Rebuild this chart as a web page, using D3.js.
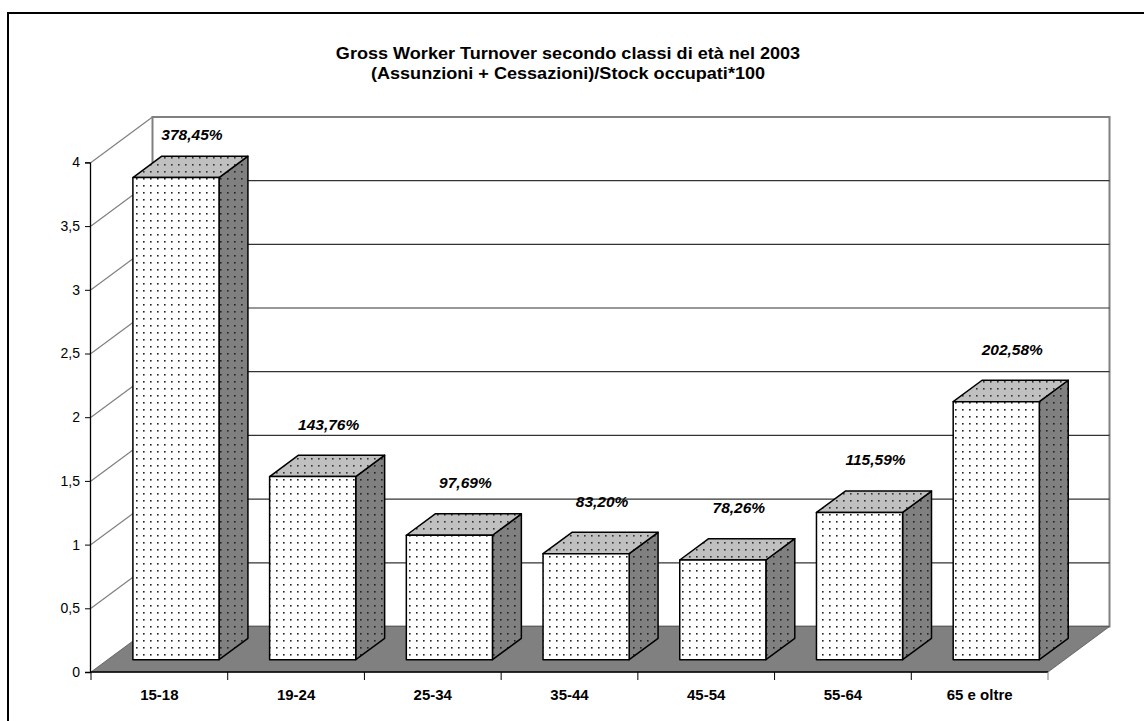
<!DOCTYPE html>
<html>
<head>
<meta charset="utf-8">
<script src="https://cdn.jsdelivr.net/npm/d3@7"></script>
<style>
  html, body { margin: 0; padding: 0; background: #fff; }
  svg { display: block; font-family: Arial, "Liberation Sans", sans-serif; }
</style>
</head>
<body>
<svg id="chart" width="1144" height="721"></svg>
<script>
// Age classes and gross worker turnover (ratio, 1 = 100%)
const categories = ["15-18", "19-24", "25-34", "35-44", "45-54", "55-64", "65 e oltre"];
const turnover = [3.7845, 1.4376, 0.9769, 0.8320, 0.7826, 1.1559, 2.0258];
const valueLabels = ["378,45%", "143,76%", "97,69%", "83,20%", "78,26%", "115,59%", "202,58%"];
const yTicks = [0, 0.5, 1, 1.5, 2, 2.5, 3, 3.5, 4];
const titleLines = [
  "Gross Worker Turnover secondo classi di età nel 2003",
  "(Assunzioni + Cessazioni)/Stock occupati*100"
];

const svg = d3.select("#chart");

// Front plane of the 3-D plot and the oblique depth vector
const left = 91, right = 1048, floorY = 672;
const depth = { dx: 61.5, dy: -45.5 };
const barFront = 0.27, barBack = 0.74;

const y = d3.scaleLinear().domain([0, 4]).range([floorY, floorY - 4 * 127.4]);
const xCat = d3.scaleBand().domain(categories).range([left, right]).padding(0);
const xBar = d3.scaleBand().domain(categories).range([left, right])
  .paddingInner(0.37).paddingOuter(0.185);

// project (x on front plane, value, depth fraction) to screen
const P = (x, v, d) => [x + d * depth.dx, y(v) + d * depth.dy];
const poly = pts => "M" + pts.map(p => p.join(",")).join("L") + "Z";
const fmt = v => d3.format(".1~f")(v).replace(".", ",");

// Dot fill patterns for the three visible faces
const defs = svg.append("defs");
function dots(id, bg, dot) {
  const p = defs.append("pattern").attr("id", id)
    .attr("patternUnits", "userSpaceOnUse").attr("width", 7).attr("height", 7);
  p.append("rect").attr("width", 7).attr("height", 7).attr("fill", bg);
  p.append("rect").attr("x", 3).attr("y", 3).attr("width", 1.6).attr("height", 1.6).attr("fill", dot);
}
dots("dotFront", "#ffffff", "#222");
dots("dotTop", "#c0c0c0", "#333");
dots("dotSide", "#808080", "#222");

// Outer chart frame
svg.append("rect").attr("x", 8).attr("y", 13).attr("width", 1200).attr("height", 800)
  .attr("fill", "none").attr("stroke", "#000").attr("stroke-width", 2);

// Title (the chart font runs slightly wide)
svg.append("g").selectAll("text").data(titleLines).join("text")
  .attr("transform", (d, i) => `translate(568,${59 + i * 20}) scale(1.13,1)`)
  .attr("text-anchor", "middle").attr("font-weight", "bold").attr("font-size", 16)
  .text(d => d);

// Back wall
const wall = [P(left, 4, 1), P(right, 4, 1), P(right, 0, 1), P(left, 0, 1)];
svg.append("path").attr("d", poly(wall)).attr("fill", "#fff")
  .attr("stroke", "#808080").attr("stroke-width", 2);

// Gridlines on the back wall
svg.append("g").selectAll("line").data(yTicks.filter(t => t > 0 && t < 4)).join("line")
  .attr("x1", t => P(left, t, 1)[0]).attr("y1", t => P(left, t, 1)[1])
  .attr("x2", t => P(right, t, 1)[0]).attr("y2", t => P(right, t, 1)[1])
  .attr("stroke", "#333").attr("stroke-width", 1.2);

// Gridlines along the side wall
svg.append("g").selectAll("line").data(yTicks.filter(t => t > 0)).join("line")
  .attr("x1", t => P(left, t, 0)[0]).attr("y1", t => P(left, t, 0)[1])
  .attr("x2", t => P(left, t, 1)[0]).attr("y2", t => P(left, t, 1)[1])
  .attr("stroke", "#808080").attr("stroke-width", 1.2);

// Floor
svg.append("path")
  .attr("d", poly([P(left, 0, 0), P(right, 0, 0), P(right, 0, 1), P(left, 0, 1)]))
  .attr("fill", "#808080").attr("stroke", "#555").attr("stroke-width", 0.8);

// Bars
const bars = svg.append("g").selectAll("g").data(categories.map((c, i) => ({ c, v: turnover[i], label: valueLabels[i] })))
  .join("g");
bars.append("path").attr("class", "side")
  .attr("d", d => {
    const xr = xBar(d.c) + xBar.bandwidth();
    return poly([P(xr, d.v, barFront), P(xr, 0, barFront), P(xr, 0, barBack), P(xr, d.v, barBack)]);
  })
  .attr("fill", "url(#dotSide)").attr("stroke", "#000").attr("stroke-width", 1.5).attr("stroke-linejoin", "round");
bars.append("path").attr("class", "top")
  .attr("d", d => {
    const xl = xBar(d.c), xr = xl + xBar.bandwidth();
    return poly([P(xl, d.v, barFront), P(xr, d.v, barFront), P(xr, d.v, barBack), P(xl, d.v, barBack)]);
  })
  .attr("fill", "url(#dotTop)").attr("stroke", "#000").attr("stroke-width", 1.5).attr("stroke-linejoin", "round");
bars.append("path").attr("class", "front")
  .attr("d", d => {
    const xl = xBar(d.c), xr = xl + xBar.bandwidth();
    return poly([P(xl, d.v, barFront), P(xr, d.v, barFront), P(xr, 0, barFront), P(xl, 0, barFront)]);
  })
  .attr("fill", "url(#dotFront)").attr("stroke", "#000").attr("stroke-width", 1.5).attr("stroke-linejoin", "round");

// Value labels above each bar, kept inside the plot area
const plotTop = P(left, 4, 1)[1];
bars.append("text")
  .attr("x", d => P(xBar(d.c) + xBar.bandwidth() / 2, d.v, barFront)[0] + 16)
  .attr("y", d => Math.max(P(0, d.v, barFront)[1] - 52, plotTop + 18) + 5)
  .attr("text-anchor", "middle").attr("font-weight", "bold").attr("font-style", "italic")
  .attr("font-size", 15.5).text(d => d.label);

// Value axis on the front-left edge
const yAxis = svg.append("g").attr("transform", `translate(${left - 1},0)`)
  .call(d3.axisLeft(y).tickValues(yTicks).tickFormat(fmt).tickSize(5).tickPadding(5));
yAxis.select(".domain").attr("stroke", "#000").attr("stroke-width", 1.3);
yAxis.selectAll(".tick line").attr("stroke", "#000");
yAxis.selectAll(".tick text").attr("font-size", 14).attr("font-family", "Arial, 'Liberation Sans', sans-serif").attr("fill", "#000");

// Category axis along the front edge of the floor
const xAxis = svg.append("g").attr("transform", `translate(0,${floorY})`);
xAxis.append("line").attr("x1", left).attr("x2", right).attr("stroke", "#000").attr("stroke-width", 1.3);
const bounds = categories.map(c => xCat(c)).concat([right]);
xAxis.selectAll("line.tk").data(bounds).join("line").attr("class", "tk")
  .attr("x1", d => d).attr("x2", d => d).attr("y1", 0).attr("y2", 8)
  .attr("stroke", (d, i) => i === bounds.length - 1 ? "#808080" : "#000");
xAxis.selectAll("text").data(categories).join("text")
  .attr("x", c => xCat(c) + xCat.bandwidth() / 2).attr("y", 28)
  .attr("text-anchor", "middle").attr("font-weight", "bold").attr("font-size", 15)
  .text(c => c);
</script>
</body>
</html>
